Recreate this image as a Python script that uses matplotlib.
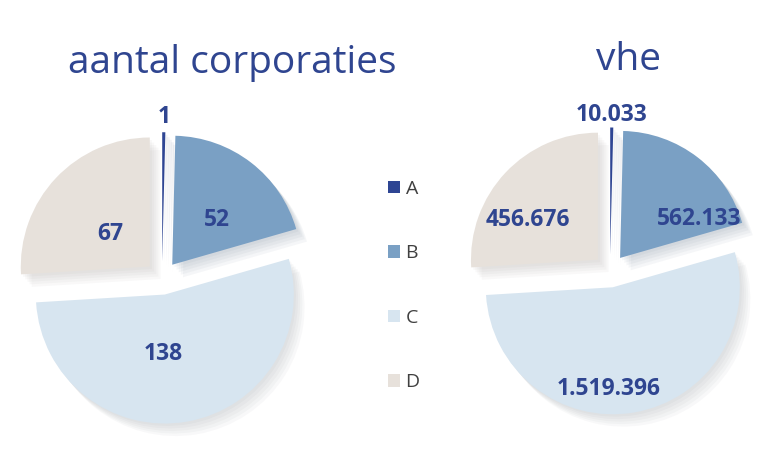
import matplotlib
matplotlib.use("Agg")
import matplotlib.pyplot as plt
import numpy as np
from matplotlib.patches import Shadow

categories = ["A", "B", "C", "D"]
corporaties = [1, 52, 138, 67]
corporaties_labels = ["1", "52", "138", "67"]
vhe = [10033, 562133, 1519396, 456676]
vhe_labels = ["10.033", "562.133", "1.519.396", "456.676"]
# In the reference, the wedges of the "vhe" pie are drawn with the same
# proportions as the "aantal corporaties" pie.
vhe_slice_shares = [1, 52, 138, 67]
titles = ["aantal corporaties", "vhe"]

colors = ["#2E4593", "#7AA0C4", "#D7E5F0", "#E7E1DB"]
text_color = "#2F4590"

plt.rcParams['font.family'] = ['Open Sans', 'DejaVu Sans']

W, H = 779, 467
fig = plt.figure(figsize=(W / 100, H / 100), dpi=100)
fig.patch.set_facecolor("white")

LABEL_FS = 16.5


def make_pie(cx, cy, r, values, labels, dists, offs):
    lim = 1.3
    size = 2 * lim * r
    ax = fig.add_axes([(cx - size / 2) / W, (H - cy - size / 2) / H, size / W, size / H])
    wedges, _ = ax.pie(values, colors=colors, startangle=90, counterclock=False,
                       explode=[0.13] * len(values), radius=1.0,
                       wedgeprops=dict(linewidth=0))
    ax.set_xlim(-lim, lim)
    ax.set_ylim(-lim, lim)
    ax.set_aspect("equal")
    ax.axis("off")
    # soft shadow
    for w in wedges:
        for k in range(1, 6):
            s = Shadow(w, 0.012 * k, -0.014 * k, shade=0.4, alpha=0.05, linewidth=0)
            s.set_zorder(w.get_zorder() - 0.1)
            ax.add_patch(s)
    for w, lab, d, o in zip(wedges, labels, dists, offs):
        ang = np.deg2rad((w.theta1 + w.theta2) / 2 + o)
        x = d * w.r * np.cos(ang)
        y = d * w.r * np.sin(ang)
        ax.annotate(lab, (x, y), xytext=(0, -0.36 * LABEL_FS),
                    textcoords="offset points", ha="center", va="baseline",
                    color=text_color, fontsize=LABEL_FS, fontweight="bold",
                    zorder=10, annotation_clip=False)
    return wedges


wl = make_pie(162, 278, 129, corporaties, corporaties_labels,
              [1.264, 0.636, 0.570, 0.535], [0, -4.8, -8.6, 1.5])
wr = make_pie(610, 271, 127, vhe_slice_shares, vhe_labels,
              [1.248, 0.822, 0.909, 0.772], [0, -20.8, -10.3, 10.6])

fig.text(232 / W, 1 - 73 / H, titles[0], ha="center", va="baseline",
         color=text_color, fontsize=28)
fig.text(629 / W, 1 - 70 / H, titles[1], ha="center", va="baseline",
         color=text_color, fontsize=28)

leg = fig.legend(wl, categories, loc="center left",
                 bbox_to_anchor=(388 / W, 1 - 285.5 / H), frameon=False,
                 fontsize=14, labelspacing=2.39, handlelength=0.6,
                 handleheight=0.6, handletextpad=0.3,
                 borderaxespad=0, borderpad=0)
for t in leg.get_texts():
    t.set_color("#404040")

fig.savefig("out.png", dpi=100, facecolor="white")
